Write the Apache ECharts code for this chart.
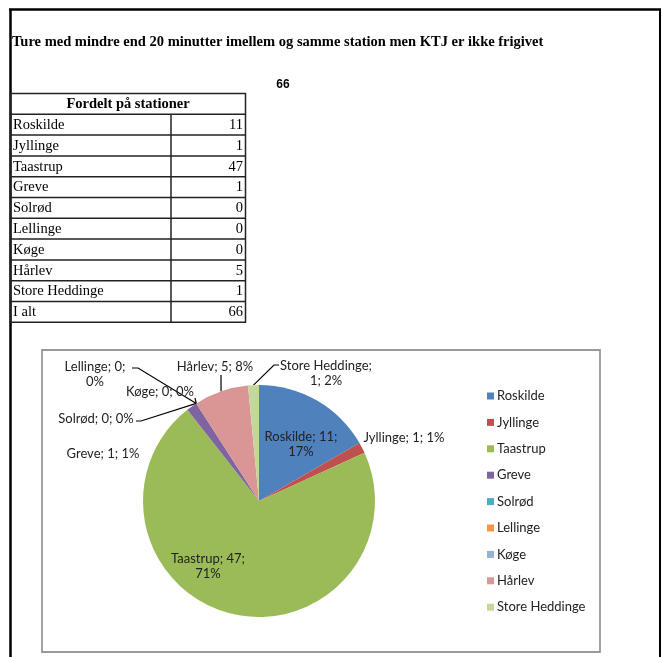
<!DOCTYPE html>
<html><head><meta charset="utf-8">
<script src="https://cdn.jsdelivr.net/npm/echarts@6/dist/echarts.min.js"></script>
<style>html,body{margin:0;padding:0;background:#fff}#c{width:662px;height:657px}</style>
</head><body><div id="c"></div>
<script>
var titleText = 'Ture med mindre end 20 minutter imellem og samme station men KTJ er ikke frigivet';
var totalText = '66';
var tableHeader = 'Fordelt på stationer';
var stations = ['Roskilde','Jyllinge','Taastrup','Greve','Solrød','Lellinge','Køge','Hårlev','Store Heddinge'];
var counts = [11, 1, 47, 1, 0, 0, 0, 5, 1];
var pctLabels = [17, 1, 71, 1, 0, 0, 0, 8, 2];
var totalLabel = 'I alt';
var totalValue = 66;
var colors = ['#4F81BD','#C0504D','#9BBB59','#8064A2','#4BACC6','#F79646','#95B3D7','#D99694','#C3D69B'];

// label layout (pixel positions of label centres, and optional leader line elbow)
var labelLayoutCfg = {
  'Roskilde':       {x:301, y:444, line:false},
  'Jyllinge':       {x:404, y:438, line:false},
  'Taastrup':       {x:208, y:566, line:false},
  'Greve':          {x:103, y:454, line:false},
  'Solrød':         {x:96,  y:419, line:true, elbow:[141,421], end:[136,421]},
  'Lellinge':       {x:95,  y:374, line:true, elbow:[138,368], end:[132,368]},
  'Køge':           {x:160, y:392, line:true, elbow:[195,398], end:[195,398]},
  'Hårlev':         {x:215, y:367, line:true, elbow:[221,376], end:[221,375]},
  'Store Heddinge': {x:326, y:373, line:true, elbow:[274,365], end:[279,365]}
};

var chart = echarts.init(document.getElementById('c'), null, {renderer:'canvas'});

var graphics = [];
// outer frame
graphics.push({type:'line', shape:{x1:10.5,y1:9,x2:10.5,y2:657}, style:{stroke:'#000', lineWidth:2.5}});
graphics.push({type:'line', shape:{x1:9,y1:9.5,x2:661,y2:9.5}, style:{stroke:'#000', lineWidth:2.5}});
graphics.push({type:'line', shape:{x1:660,y1:9,x2:660,y2:657}, style:{stroke:'#000', lineWidth:2}});
// title
graphics.push({type:'text', x:12, y:42, style:{text:titleText, font:'bold 14.5px "Liberation Serif"', fill:'#000', verticalAlign:'middle'}});
graphics.push({type:'text', x:283, y:85, style:{text:totalText, font:'bold 12px "Liberation Sans"', fill:'#000', align:'center', verticalAlign:'middle'}});

// table
var tL = 10.5, tR = 245.5, tDiv = 171, tTop = 93.5, rowH = 20.8;
var rows = stations.map(function(s,i){return [s, counts[i]];});
rows.push([totalLabel, totalValue]);
var nRows = rows.length + 1;
var tBottom = tTop + nRows*rowH;
graphics.push({type:'rect', shape:{x:tL,y:tTop,width:tR-tL,height:tBottom-tTop}, style:{fill:'none', stroke:'#222', lineWidth:1.5}});
for (var r=1;r<nRows;r++){
  var yy = tTop + r*rowH;
  graphics.push({type:'line', shape:{x1:tL,y1:yy,x2:tR,y2:yy}, style:{stroke:'#222', lineWidth:1.5}});
}
graphics.push({type:'line', shape:{x1:tDiv,y1:tTop+rowH,x2:tDiv,y2:tBottom}, style:{stroke:'#222', lineWidth:1.5}});
graphics.push({type:'text', x:(tL+tR)/2, y:tTop+rowH/2+0.5, style:{text:tableHeader, font:'bold 14.5px "Liberation Serif"', fill:'#000', align:'center', verticalAlign:'middle'}});
rows.forEach(function(row,i){
  var cy = tTop + (i+1)*rowH + rowH/2 + 0.5;
  graphics.push({type:'text', x:13, y:cy, style:{text:row[0], font:'14.5px "Liberation Serif"', fill:'#000', align:'left', verticalAlign:'middle'}});
  graphics.push({type:'text', x:243, y:cy, style:{text:String(row[1]), font:'14.5px "Liberation Serif"', fill:'#000', align:'right', verticalAlign:'middle'}});
});
// chart area box
graphics.push({type:'rect', shape:{x:42,y:350,width:558,height:302}, style:{fill:'none', stroke:'#999', lineWidth:1.8}, z:-1});

var pieData = stations.map(function(s,i){
  var cfg = labelLayoutCfg[s];
  return {name:s, value:counts[i], itemStyle:{color:colors[i]}, labelLine:{show:cfg.line}};
});

chart.setOption({
  animation:false,
  backgroundColor:'#fff',
  graphic: graphics,
  legend:{
    orient:'vertical', left:482, top:384,
    itemWidth:7, itemHeight:7, itemGap:12.4, icon:'rect',
    textStyle:{fontFamily:'Lato', fontSize:13, color:'#222', lineHeight:14, padding:[0,0,0,-2]},
    data: stations
  },
  series:[{
    type:'pie',
    center:[259,501], radius:[0,116],
    startAngle:90, clockwise:true,
    minShowLabelAngle:0,
    avoidLabelOverlap:false,
    itemStyle:{borderWidth:0},
    label:{
      show:true, position:'outside', fontFamily:'Lato', fontSize:13, color:'#222', lineHeight:15, align:'center',
      formatter:function(p){
        var t = p.name + '; ' + p.value + '; ' + pctLabels[p.dataIndex] + '%';
        if (p.name==='Roskilde' || p.name==='Taastrup' || p.name==='Lellinge' || p.name==='Store Heddinge') {
          var parts = t.split('; ');
          if (p.name==='Store Heddinge') return parts[0] + ';\n' + parts[1] + '; ' + parts[2];
          return parts[0] + '; ' + parts[1] + ';\n' + parts[2];
        }
        return t;
      }
    },
    labelLine:{show:true, length:10, length2:10, lineStyle:{color:'#000', width:1.2}},
    labelLayout:function(params){
      var name = stations[params.dataIndex];
      var cfg = labelLayoutCfg[name];
      var res = {x:cfg.x, y:cfg.y, align:'center', verticalAlign:'middle'};
      if (cfg.line && params.labelLinePoints) {
        var start = params.labelLinePoints[0];
        res.labelLinePoints = [start, cfg.elbow, cfg.end];
      }
      return res;
    },
    data: pieData
  }]
});
</script></body></html>
